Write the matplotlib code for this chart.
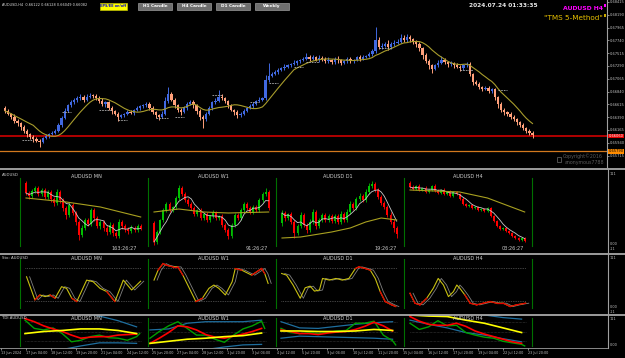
import numpy as np
import pandas as pd
import matplotlib
matplotlib.use("Agg")
import matplotlib.pyplot as plt
from matplotlib.patches import Rectangle

# ======================= DATA =======================
# Main chart: AUDUSD H4
main_open0 = 0.6655
main_close = [
    0.6650, 0.6645, 0.6640, 0.6632,
    0.6628, 0.6622, 0.6615, 0.6610, 0.6605, 0.6600, 0.6598, 0.6596,
    0.6602, 0.6606, 0.6610, 0.6612, 0.6615,
    0.6625, 0.6638, 0.6650,
    0.6660, 0.6665, 0.6669,
    0.6672, 0.6675, 0.6670, 0.6674, 0.6677, 0.6676, 0.6673,
    0.6668, 0.6662, 0.6665, 0.6655, 0.6650, 0.6645, 0.6640,
    0.6642, 0.6645, 0.6648, 0.6646, 0.6652, 0.6655, 0.6658, 0.6660, 0.6662,
    0.6655, 0.6648, 0.6642, 0.6640, 0.6645,
    0.6668, 0.6680,
    0.6670, 0.6660, 0.6652, 0.6648,
    0.6655, 0.6662, 0.6666,
    0.6660, 0.6650, 0.6640, 0.6635,
    0.6645, 0.6655, 0.6665, 0.6668, 0.6675, 0.6672,
    0.6668, 0.6660, 0.6652, 0.6648, 0.6643, 0.6645,
    0.6650, 0.6655, 0.6658, 0.6662, 0.6668, 0.6670, 0.6672,
    0.6705, 0.6712,
    0.6715, 0.6718, 0.6722, 0.6725, 0.6728, 0.6730, 0.6733, 0.6735, 0.6737, 0.6740, 0.6742,
    0.6745, 0.6742, 0.6744, 0.6740, 0.6743, 0.6741,
    0.6738, 0.6740, 0.6736, 0.6742, 0.6739, 0.6735, 0.6738, 0.6741, 0.6737, 0.6740, 0.6744, 0.6742, 0.6745, 0.6747, 0.6750,
    0.6755, 0.6775, 0.6762, 0.6765, 0.6768, 0.6762, 0.6768, 0.6770, 0.6772,
    0.6778, 0.6775, 0.6780, 0.6776, 0.6772, 0.6768,
    0.6760, 0.6748, 0.6738, 0.6730, 0.6724,
    0.6730, 0.6735, 0.6740, 0.6736, 0.6732,
    0.6734, 0.6730, 0.6728, 0.6725, 0.6730, 0.6733,
    0.6715, 0.6700,
    0.6698, 0.6692, 0.6688, 0.6690, 0.6685, 0.6688,
    0.6675, 0.6662, 0.6652, 0.6648, 0.6645,
    0.6640, 0.6635, 0.6630, 0.6625, 0.6620, 0.6615, 0.6612, 0.6608,
]
main_wick_up = [  # pips above body
    3, 4, 2, 5,
    3, 2, 4, 3, 2, 3, 4, 2,
    3, 4, 2, 3, 4,
    4, 3, 5,
    3, 4, 3,
    5, 4, 3, 6, 4, 3, 4,
    3, 4, 2, 3, 4, 2, 3,
    3, 2, 4, 3, 2, 4, 3, 2, 3,
    3, 4, 2, 3, 4,
    6, 12,
    4, 3, 2, 3,
    3, 4, 3,
    3, 2, 3, 2,
    3, 4, 3, 4, 12, 5,
    3, 2, 3, 2, 4, 3,
    3, 2, 4, 3, 2, 4, 3,
    8, 22,
    3, 4, 3, 2, 4, 3, 2, 4, 3, 2, 3,
    6, 3, 4, 3, 5, 3,
    3, 4, 2, 3, 4, 3, 2, 4, 3, 2, 3, 4, 3, 2, 3,
    4, 22, 5, 4, 3, 6, 4, 5, 4,
    8, 6, 6, 4, 3, 3,
    3, 2, 4, 3, 2,
    3, 4, 6, 3, 2,
    3, 2, 4, 3, 2, 3,
    3, 2,
    4, 3, 2, 3, 4, 3,
    3, 2, 4, 3, 2,
    3, 2, 3, 2, 3, 2, 3, 2,
]
main_wick_dn = [  # pips below body
    4, 3, 5, 4,
    4, 5, 3, 6, 4, 5, 3, 9,
    3, 2, 4, 3, 2,
    2, 3, 2,
    2, 3, 2,
    3, 2, 4, 3, 2, 3, 4,
    4, 3, 5, 4, 6, 3, 7,
    3, 2, 3, 2, 4, 2, 3, 2, 3,
    4, 3, 5, 6, 3,
    3, 4,
    3, 5, 4, 6,
    2, 3, 2,
    4, 5, 6, 15,
    3, 2, 3, 2, 3, 2,
    4, 5, 3, 6, 5, 4,
    3, 2, 2, 3, 2, 3, 2,
    3, 5,
    3, 2, 3, 2, 3, 2, 3, 2, 4, 2, 3,
    3, 4, 3, 2, 4, 3,
    4, 3, 4, 3, 5, 4, 3, 4, 3, 2, 3, 4, 3, 2, 3,
    3, 4, 3, 4, 3, 5, 3, 4, 3,
    3, 4, 3, 4, 5, 6,
    5, 6, 4, 7, 8,
    2, 3, 2, 3, 4,
    3, 4, 3, 5, 3, 2,
    4, 5,
    3, 4, 3, 2, 4, 3,
    5, 6, 4, 5, 4,
    4, 3, 4, 3, 4, 3, 4, 5,
]
pip = 0.0001
main_ma_period = 10
red_level = 0.66060
orange_level = 0.65790
price_ticks = [0.68415, 0.68190, 0.67965, 0.67740, 0.67515, 0.67290, 0.67065,
               0.66840, 0.66615, 0.66390, 0.66165, 0.65940, 0.65715]
frac_start = [5.5, 18, 30, 36, 48, 54, 66, 78, 84, 92, 96, 119, 145, 157]
frac_end = [9, 21, 34, 39, 52, 57, 69, 81, 87, 95, 100, 123, 149, 160]
frac_price = [0.6599, 0.6648, 0.6652, 0.6634, 0.6638, 0.6640, 0.6678, 0.6666,
              0.6699, 0.6727, 0.6736, 0.6761, 0.6722, 0.6687]

time_labels = ["13 Jun 2024", "17 Jun 04:00", "18 Jun 12:00", "19 Jun 20:00",
               "21 Jun 04:00", "24 Jun 12:00", "25 Jun 20:00", "27 Jun 04:00",
               "28 Jun 12:00", "1 Jul 20:00", "3 Jul 04:00", "4 Jul 12:00",
               "5 Jul 20:00", "9 Jul 04:00", "10 Jul 12:00", "11 Jul 20:00",
               "15 Jul 04:00", "16 Jul 12:00", "17 Jul 20:00", "19 Jul 04:00",
               "22 Jul 12:00", "23 Jul 20:00"]

# Multi-timeframe panel (levels in panel units, 0 = panel bottom)
tf_names = ["AUDUSD MN", "AUDUSD W1", "AUDUSD D1", "AUDUSD H4"]
timers = ["163:26:27", "91:26:27", "19:26:27", "03:26:27"]

mn_open = [69, 59, 56, 61, 64, 58, 62, 55, 60, 53, 49, 60, 52, 44, 37, 47, 39, 30, 17, 24,
           32, 28, 42, 34, 26, 30, 24, 20, 27, 19, 16, 30, 26, 23, 21, 24, 22, 26]
mn_close = [59, 56, 61, 64, 58, 62, 55, 60, 53, 49, 60, 52, 44, 37, 47, 39, 30, 17, 24, 32,
            28, 42, 34, 26, 30, 24, 20, 27, 19, 16, 30, 26, 23, 21, 24, 22, 26, 24]
mn_high = [71, 61, 63, 66, 66, 64, 64, 62, 62, 55, 63, 62, 54, 46, 50, 49, 41, 32, 27, 34,
           34, 44, 44, 36, 32, 32, 27, 30, 29, 21, 33, 32, 28, 25, 27, 26, 28, 28]
mn_low = [57, 53, 54, 59, 56, 56, 53, 53, 50, 46, 47, 49, 41, 33, 35, 37, 27, 12, 15, 22,
          26, 26, 31, 24, 23, 21, 17, 18, 16, 14, 14, 23, 20, 18, 19, 20, 20, 22]
mn_slow_x = [0, 13, 24, 37]
mn_slow = [54, 50, 45, 35]

w1_open = [29, 10, 20, 32, 42, 48, 42, 45, 54, 64, 58, 52, 48, 44, 38, 42, 34, 38, 32, 36,
           40, 34, 36, 27, 22, 16, 27, 37, 34, 42, 48, 44, 40, 45, 42, 52, 58, 60]
w1_close = [10, 20, 32, 42, 48, 42, 45, 54, 64, 58, 52, 48, 44, 38, 42, 34, 38, 32, 36, 40,
            34, 36, 27, 22, 16, 27, 37, 34, 42, 48, 44, 40, 45, 42, 52, 58, 60, 44]
w1_high = [31, 22, 33, 44, 50, 50, 46, 56, 67, 66, 60, 54, 50, 46, 43, 44, 39, 40, 37, 42,
           41, 37, 38, 29, 24, 29, 39, 39, 44, 50, 50, 46, 47, 47, 54, 60, 64, 62]
w1_low = [7, 8, 18, 30, 40, 40, 40, 43, 52, 56, 50, 46, 42, 36, 36, 32, 32, 30, 30, 34,
          32, 32, 25, 20, 13, 14, 25, 32, 32, 40, 42, 38, 38, 40, 40, 50, 56, 42]
w1_slow_x = [0, 8, 16, 24, 37]
w1_slow = [40, 43, 40, 39, 40]

d1_open = [29, 39, 34, 38, 30, 19, 26, 37, 27, 22, 30, 40, 26, 32, 37, 32, 36, 31, 36, 30,
           38, 32, 40, 48, 44, 53, 56, 52, 60, 66, 68, 62, 55, 49, 45, 37, 30, 24]
d1_close = [39, 34, 38, 30, 19, 26, 37, 27, 22, 30, 40, 26, 32, 37, 32, 36, 31, 36, 30, 38,
            32, 40, 48, 44, 53, 56, 52, 60, 66, 68, 62, 55, 49, 45, 37, 30, 24, 18]
d1_high = [42, 41, 39, 40, 32, 28, 40, 39, 29, 33, 43, 42, 34, 39, 39, 38, 38, 38, 38, 41,
           40, 43, 51, 50, 55, 59, 58, 63, 69, 71, 70, 64, 57, 51, 47, 40, 33, 26]
d1_low = [26, 31, 32, 28, 14, 17, 24, 25, 19, 20, 28, 23, 24, 30, 30, 30, 29, 29, 28, 28,
          30, 30, 38, 42, 42, 51, 50, 50, 58, 64, 60, 53, 47, 43, 35, 28, 20, 14]
d1_slow_x = [0, 6, 16, 22, 27, 32, 37]
d1_slow = [14, 15, 20, 24, 30, 34, 32]

h4_open = [69, 65, 63, 66, 62, 64, 60, 62, 66, 61, 59, 62, 58, 60, 56, 60, 58, 53, 48, 46,
           47, 44, 45, 42, 43, 41, 44, 36, 31, 26, 23, 24, 21, 19, 16, 14, 12, 14]
h4_close = [65, 63, 66, 62, 64, 60, 62, 66, 61, 59, 62, 58, 60, 56, 60, 58, 53, 48, 46, 47,
            44, 45, 42, 43, 41, 44, 36, 31, 26, 23, 24, 21, 19, 16, 14, 12, 14, 11]
h4_high = [71, 67, 67, 68, 64, 66, 63, 67, 68, 63, 63, 64, 61, 62, 61, 61, 59, 55, 49, 48,
           48, 46, 46, 44, 44, 45, 45, 37, 32, 27, 25, 25, 22, 20, 17, 15, 15, 15]
h4_low = [64, 62, 62, 61, 61, 59, 59, 61, 60, 58, 58, 57, 57, 55, 55, 57, 52, 47, 45, 45,
          43, 43, 41, 41, 40, 40, 35, 30, 25, 22, 22, 20, 18, 15, 13, 11, 11, 10]
h4_slow_x = [0, 16, 25, 37]
h4_slow = [62, 60, 54, 40]

# Stochastic (0-100) read points: bar positions and values
sto_mn_x = [0.5, 3.2, 4.8, 6.5, 8.1, 9.7, 11.8, 13.4, 15.1, 16.7, 19.9, 22, 24.2, 26.4, 29, 31.7, 34.4, 37.3]
sto_mn = [64, 22, 31, 28, 31, 25, 46, 43, 25, 19, 58, 55, 43, 37, 19, 58, 40, 56]
sto_w1_x = [1.3, 2.6, 4.2, 5.3, 7.4, 9.0, 10.6, 12.7, 14.8, 16.9, 19.0, 20.6, 22.2, 24.3, 26.5, 27.5, 29.6, 32.8, 36.0, 37.0, 38.1]
sto_w1 = [58, 76, 88, 85, 82, 82, 67, 43, 19, 25, 43, 49, 43, 31, 55, 79, 76, 67, 79, 70, 52]
sto_d1_x = [0.2, 1.8, 3.9, 6.2, 7.8, 9.4, 10.8, 12.4, 13.4, 15.6, 17.7, 19.8, 21.9, 24.0, 25.1, 27.2, 28.8, 30.4, 32.0, 33.6, 35.7, 37.0]
sto_d1 = [70, 67, 49, 25, 44, 47, 38, 40, 61, 58, 61, 58, 61, 79, 82, 79, 76, 61, 37, 19, 13, 10]
sto_h4_x = [0, 1.6, 3.2, 5.4, 7.5, 9.1, 10.8, 12.4, 14.0, 15.1, 16.1, 17.7, 19.4, 21.5, 23.7, 25.8, 28.0, 30.1, 32.3, 34.4, 37.3]
sto_h4 = [34, 16, 13, 25, 43, 61, 49, 28, 37, 49, 43, 31, 16, 13, 16, 19, 16, 16, 10, 13, 16]

# TDI read points (RSI scale)
tdi_coarse_x = [0, 6, 12, 18, 24, 30, 36]
tdi_fine_x = [0, 3, 6, 9, 12, 15, 18, 21, 24, 27, 30, 33, 36]
tdi_green_x = [0, 3, 6, 9, 12, 15, 18, 21, 24, 27, 30, 33, 36, 37]

tdi_mn_up = [92, 90, 88, 86, 80, 71, 59]
tdi_mn_dn = [8, 11, 15, 22, 28, 28, 27]
tdi_mn_base = [46, 50, 52, 55, 55, 52, 46]
tdi_mn_sig = [75, 69, 61, 55, 50, 43, 37, 39, 40, 40, 43, 44, 45]
tdi_mn_rsi = [72, 56, 53, 57, 46, 30, 33, 40, 43, 38, 37, 33, 40, 46]

tdi_w1_up = [53, 55, 66, 69, 69, 69, 72]
tdi_w1_dn = [10, 10, 12, 15, 20, 24, 25]
tdi_w1_base = [27, 31, 35, 37, 40, 42, 47]
tdi_w1_sig = [27, 37, 48, 61, 59, 53, 44, 39, 37, 41, 45, 50, 56]
tdi_w1_rsi = [37, 50, 61, 69, 56, 43, 43, 35, 29, 43, 55, 61, 70, 56]

tdi_d1_up = [69, 57, 56, 60, 64, 67, 69]
tdi_d1_dn = [37, 41, 40, 39, 38, 37, 35]
tdi_d1_base = [51, 51, 50, 50, 51, 54, 52]
tdi_d1_sig = [53, 50, 46, 46, 44, 47, 49, 50, 54, 60, 68, 61, 51]
tdi_d1_rsi = [56, 48, 46, 48, 46, 48, 51, 52, 66, 66, 70, 43, 32, 24]

tdi_h4_up = [95, 92, 88, 85, 82, 77, 74]
tdi_h4_dn = [72, 64, 57, 48, 43, 36, 30]
tdi_h4_base = [82, 80, 79, 72, 66, 57, 48]
tdi_h4_sig = [79, 70, 64, 62, 62, 66, 60, 51, 45, 40, 35, 30, 27]
tdi_h4_rsi = [66, 54, 59, 71, 61, 62, 48, 43, 39, 37, 31, 28, 25, 22]

# ======================= FIGURE =======================
W, H = 625, 358
fig = plt.figure(figsize=(W / 100, H / 100), dpi=100)
fig.patch.set_facecolor('black')

FS = 3.2
AXFS = 2.6
GRAY = '#C0C0C0'


def px_axes(x0, y0, x1, y1):
    a = fig.add_axes([x0 / W, 1 - y1 / H, (x1 - x0) / W, (y1 - y0) / H])
    a.patch.set_alpha(0)
    return a


def candles(ax, o, h, l, c, up, dn, w=0.62, lw=0.6):
    o = np.asarray(o, float); h = np.asarray(h, float)
    l = np.asarray(l, float); c = np.asarray(c, float)
    x = np.arange(len(c))
    cols = [up if cc >= oo else dn for oo, cc in zip(o, c)]
    ax.vlines(x, l, h, colors=cols, lw=lw, zorder=2)
    bottom = np.minimum(o, c)
    height = np.abs(c - o)
    height = np.maximum(height, (ax.get_ylim()[1] - ax.get_ylim()[0]) * 0.006)
    ax.bar(x, height, w, bottom, color=cols, linewidth=0, zorder=3)


# ---------- main chart ----------
XL = (-5 / 3.14, 602 / 3.14)
ax = px_axes(0, 0, 607, 167)
ax.set_xlim(*XL)
ax.set_ylim(0.6845 - 167 * 0.0001758, 0.6845)
closes = np.array(main_close)
opens = np.array([main_open0] + main_close[:-1])
highs = np.maximum(opens, closes) + np.array(main_wick_up) * pip
lows = np.minimum(opens, closes) - np.array(main_wick_dn) * pip
candles(ax, opens, highs, lows, closes, '#4169E1', '#FFA07A', w=0.72, lw=0.7)
ma = pd.Series(closes).rolling(main_ma_period, min_periods=1).mean()
ax.plot(np.arange(len(closes)), ma, color='#A89C2C', lw=0.8, zorder=4)
for s, e, p in zip(frac_start, frac_end, frac_price):
    ax.plot([s, e], [p, p], color='#B0B0B0', lw=0.6, ls=(0, (2, 1.2)), zorder=4)
ax.axhline(red_level, color='#B00000', lw=1.4, zorder=1)
ax.axhline(orange_level, color='#D2781E', lw=0.9, zorder=1)
ax.yaxis.tick_right()
ax.set_yticks(price_ticks)
ax.set_yticklabels([f"{t:.5f}" for t in price_ticks])
ax.tick_params(axis='y', labelsize=AXFS, colors=GRAY, length=1.2, width=0.5, pad=0.6)
ax.set_xticks([])
for sp in ['top', 'left', 'bottom']:
    ax.spines[sp].set_visible(False)
ax.spines['right'].set_color('#A0A0A0')
ax.spines['right'].set_linewidth(0.8)
# price boxes
ax.text(1.003, red_level, f"{red_level:.5f}", transform=ax.get_yaxis_transform(),
        fontsize=AXFS, color='white', va='center', ha='left',
        bbox=dict(boxstyle='square,pad=0.12', fc='#E00000', ec='none'), clip_on=False)
ax.text(1.003, orange_level, f"{orange_level:.5f}", transform=ax.get_yaxis_transform(),
        fontsize=AXFS, color='black', va='center', ha='left',
        bbox=dict(boxstyle='square,pad=0.12', fc='#FF8C00', ec='none'), clip_on=False)

# ---------- sub panels ----------
LX = [20, 148, 276, 404]
F2 = [26, 154, 282, 410]
F34 = [25, 150, 281, 410]
SP = 3.1


def sub_axes(i, y0, y1, F, ylim):
    a = px_axes(LX[i], y0, LX[i] + 128, y1)
    a.set_xlim(-(F - LX[i]) / SP, (LX[i] + 128 - F) / SP)
    a.set_ylim(*ylim)
    a.axis('off')
    return a


ohlc = [(mn_open, mn_high, mn_low, mn_close, mn_slow_x, mn_slow),
        (w1_open, w1_high, w1_low, w1_close, w1_slow_x, w1_slow),
        (d1_open, d1_high, d1_low, d1_close, d1_slow_x, d1_slow),
        (h4_open, h4_high, h4_low, h4_close, h4_slow_x, h4_slow)]
for i, (o, h, l, c, sx, sv) in enumerate(ohlc):
    a = sub_axes(i, 170, 252, F2[i], (0, 82))
    candles(a, o, h, l, c, '#00C000', '#FF0000', w=0.62, lw=0.6)
    fast = pd.Series(c, dtype=float).rolling(5, min_periods=1).mean()
    a.plot(np.arange(len(c)), fast, color='#C8C8C8', lw=0.6, zorder=4)
    a.plot(sx, sv, color='#A8A020', lw=0.8, zorder=4)

stos = [(sto_mn_x, sto_mn), (sto_w1_x, sto_w1), (sto_d1_x, sto_d1), (sto_h4_x, sto_h4)]
for i, (sx, sv) in enumerate(stos):
    a = sub_axes(i, 255, 313, F34[i], (-1.8, 103.6))
    a.plot([0, 37.5], [80, 80], color='#808080', lw=0.5, ls=(0, (1, 1.5)))
    a.plot([0, 37.5], [20, 20], color='#808080', lw=0.5, ls=(0, (1, 1.5)))
    sx = np.asarray(sx, float); sv = np.asarray(sv, float)
    a.plot(sx + 1.0, sv, color='#808080', lw=0.6, zorder=3)
    a.plot(sx, sv, color='#C8C010', lw=0.8, zorder=4)
    for k in range(len(sx) - 1):
        m = (sv[k] + sv[k + 1]) / 2
        if m >= 72 or m <= 28:
            a.plot(sx[k:k + 2], sv[k:k + 2], color='#E00000', lw=0.9, zorder=5)

tdis = [(tdi_mn_up, tdi_mn_dn, tdi_mn_base, tdi_mn_sig, tdi_mn_rsi),
        (tdi_w1_up, tdi_w1_dn, tdi_w1_base, tdi_w1_sig, tdi_w1_rsi),
        (tdi_d1_up, tdi_d1_dn, tdi_d1_base, tdi_d1_sig, tdi_d1_rsi),
        (tdi_h4_up, tdi_h4_dn, tdi_h4_base, tdi_h4_sig, tdi_h4_rsi)]
for i, (up, dn, base, sig, rsi) in enumerate(tdis):
    a = sub_axes(i, 315, 348, F34[i], (18, 82))
    for lev in (32, 50, 68):
        a.plot([0, 37.5], [lev, lev], color='#606060', lw=0.4, ls=(0, (1, 1.5)))
    a.plot(tdi_coarse_x, up, color='#1E6E9E', lw=0.9)
    a.plot(tdi_coarse_x, dn, color='#1E6E9E', lw=0.9)
    a.plot(tdi_green_x, rsi, color='#00A000', lw=1.0)
    a.plot(tdi_fine_x, sig, color='#FF0000', lw=1.2)
    a.plot(tdi_coarse_x, base, color='#FFFF00', lw=1.2)

# bottom time axis
axb = px_axes(0, 315, 607, 348)
axb.set_xlim(*XL)
axb.set_ylim(0, 1)
tick_pos = [8 * k - 1.3 for k in range(len(time_labels))]
axb.set_xticks(tick_pos)
axb.set_xticklabels(time_labels)
for lab in axb.get_xticklabels():
    lab.set_ha('left')
axb.tick_params(axis='x', labelsize=2.4, colors=GRAY, length=1.5, width=0.5, pad=0.8)
axb.set_yticks([])
for sp in ['top', 'left', 'right']:
    axb.spines[sp].set_visible(False)
axb.spines['bottom'].set_color('#A0A0A0')
axb.spines['bottom'].set_linewidth(0.6)

# ---------- overlay (pixel coordinates) ----------
ov = fig.add_axes([0, 0, 1, 1])
ov.set_xlim(0, W); ov.set_ylim(H, 0); ov.axis('off'); ov.patch.set_alpha(0)
for y in (168.5, 253.5, 314.5):
    ov.plot([0, W], [y, y], color='#A8A8A8', lw=1.3)
ov.plot([607.5, 607.5], [168, 348], color='#A0A0A0', lw=0.8)
# green separators
for x in LX + [532]:
    ov.plot([x, x], [178, 246], color='#007000', lw=0.8)
    ov.plot([x, x], [259, 308], color='#007000', lw=0.8)
    ov.plot([x, x], [318, 346], color='#007000', lw=0.8)
centers = [86, 213, 338, 468]
for i, cx in enumerate(centers):
    for yy in (176, 259, 319):
        ov.text(cx, yy, tf_names[i], fontsize=3.6, color='#D0D0D0', ha='center', va='center')
timer_right = [137, 268, 397, 524]
for i, t in enumerate(timers):
    ov.text(timer_right[i], 249, t, fontsize=3.6, color='#C8C8C8', ha='right', va='center')
ov.text(2, 175, "AUDUSD", fontsize=2.8, color='#D0D0D0', va='center')
ov.text(2, 258, "Sto: AUDUSD", fontsize=2.8, color='#D0D0D0', va='center')
ov.text(2, 318, "TDI AUDUSD", fontsize=2.8, color='#D0D0D0', va='center')
for yy, t in [(174, "111"), (244, "0.00"), (249, "-11"), (258, "111"), (307, "0.00"),
              (312, "-11"), (318.5, "111"), (345.5, "0.00")]:
    ov.text(610, yy, t, fontsize=2.5, color=GRAY, va='center')

# header
ov.text(2, 4.5, "AUDUSD,H4  0.66122 0.66128 0.66049 0.66082", fontsize=2.5, color='#E0E0E0', va='center')
ov.add_patch(Rectangle((99.5, 2.5), 27.5, 7, fc='#FFFF00', ec='#C0C000', lw=0.5))
ov.text(113.2, 6, "EPS/EE on/off", fontsize=2.5, color='#1010C0', ha='center', va='center', weight='bold')
for x0, t in [(138, "H1 Candle"), (177, "H4 Candle"), (216, "D1 Candle"), (255, "Weekly")]:
    ov.add_patch(Rectangle((x0, 2.5), 34, 7, fc='#6E6E6E', ec='#9A9A9A', lw=0.5))
    ov.text(x0 + 17, 6, t, fontsize=3.1, color='white', ha='center', va='center', weight='bold')
ov.text(503, 5.5, "2024.07.24 01:33:35", fontsize=4.2, color='#E8E8E8', ha='center', va='center', weight='bold')
ov.text(603, 8, "AUDUSD H4", fontsize=4.4, color='#FF00FF', ha='right', va='center', weight='bold')
ov.text(603, 17.5, '"TMS 5-Method"', fontsize=5.2, color='#E8C000', ha='right', va='center')
ov.add_patch(Rectangle((603.5, 3.5), 2, 3, fc='#FF00FF', ec='none'))
ov.add_patch(Rectangle((603.5, 14), 2, 2.5, fc='#C8A800', ec='none'))
# copyright
ov.text(563, 156.5, "Copyright©2016", fontsize=3.4, color='#5A5A5A', va='center')
ov.text(565, 162.5, "anonymous7788", fontsize=3.4, color='#5A5A5A', va='center')
ov.add_patch(Rectangle((557, 157), 4, 5, fc='none', ec='#5A5A5A', lw=0.6))

fig.savefig("out.png", dpi=100, facecolor='black')
